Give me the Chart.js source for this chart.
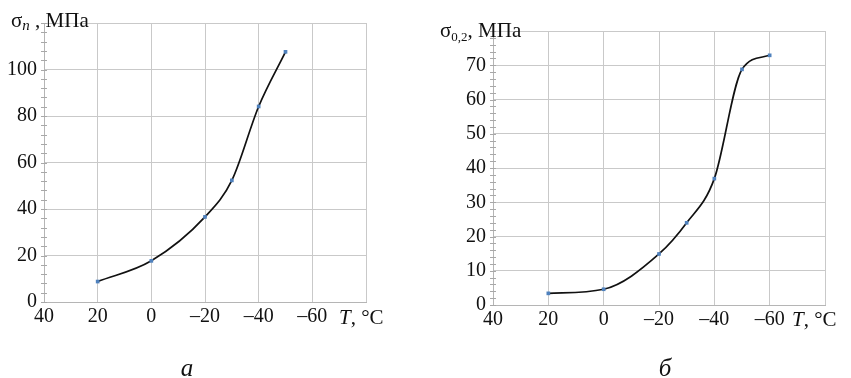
<!DOCTYPE html>
<html>
<head>
<meta charset="utf-8">
<script src="https://cdn.jsdelivr.net/npm/chart.js@4.4.1/dist/chart.umd.min.js"></script>
<style>
  html, body { margin: 0; padding: 0; background: #fff; }
  #wrap { position: relative; width: 851px; height: 378px; overflow: hidden; }
  canvas { position: absolute; top: 0; }
  #chartA { left: 0; }
  #chartB { left: 425px; }
</style>
</head>
<body>
<div id="wrap">
  <canvas id="chartA" width="425" height="378"></canvas>
  <canvas id="chartB" width="426" height="378"></canvas>
</div>
<script>
// Data
const tempsA = [20, 0, -20, -30, -40, -50];
const sigmaN = [8.8, 17.7, 36.6, 52.3, 84.1, 107.6];

const tempsB = [20, 0, -20, -30, -40, -50, -60];
const sigma02 = [3.4, 4.6, 14.9, 24.0, 36.9, 68.8, 72.9];

const xMin = -80, xMax = 40, xStep = 20;

const SERIF = "'Liberation Serif', 'DejaVu Serif', serif";
const gridGray = '#c9c9c9';
const pointBlue = '#4f81bd';

function fmtTemp(v) {
    if (v === xMin) return '';
    return v < 0 ? '\u2013' + Math.abs(v) : String(v);
}

// small ticks crossing the y axis
const minorTicks = {
    id: 'minorTicks',
    afterDraw(chart, args, opts) {
        const y = chart.scales.y;
        const ctx = chart.ctx;
        const x0 = chart.chartArea.left;
        ctx.save();
        ctx.strokeStyle = '#a8a8a8';
        ctx.lineWidth = 1;
        ctx.beginPath();
        for (let v = y.min; v <= y.max + 1e-9; v += opts.step) {
            const py = Math.round(y.getPixelForValue(v)) + 0.5;
            ctx.moveTo(x0 - 3, py);
            ctx.lineTo(x0 + 3, py);
        }
        ctx.stroke();
        ctx.restore();
    }
};

// axis titles and captions, drawn as chained text runs
const textRuns = {
    id: 'textRuns',
    afterDraw(chart, args, opts) {
        const ctx = chart.ctx;
        ctx.save();
        ctx.fillStyle = '#111';
        ctx.textBaseline = 'alphabetic';
        (opts.items || []).forEach(item => {
            let x = item.x;
            if (item.center) {
                let w = 0;
                item.runs.forEach(r => { ctx.font = r.font; w += ctx.measureText(r.text).width; });
                x -= w / 2;
            }
            item.runs.forEach(r => {
                ctx.font = r.font;
                ctx.fillText(r.text, x, item.y + (r.dy || 0));
                x += ctx.measureText(r.text).width;
            });
        });
        ctx.restore();
    }
};

function makeChart(id, temps, values, cfg) {
    return new Chart(document.getElementById(id), {
        type: 'scatter',
        data: {
            datasets: [{
                data: temps.map((t, i) => ({ x: t, y: values[i] })),
                showLine: true,
                borderColor: '#111',
                borderWidth: 1.7,
                cubicInterpolationMode: 'monotone',
                pointStyle: 'rect',
                pointRadius: 2.6,
                pointBackgroundColor: pointBlue,
                pointBorderColor: pointBlue,
                pointBorderWidth: 0
            }]
        },
        options: {
            responsive: false,
            animation: false,
            devicePixelRatio: 1,
            layout: { padding: cfg.padding },
            scales: {
                x: {
                    type: 'linear',
                    reverse: true,
                    min: xMin,
                    max: xMax,
                    afterFit: s => { s.height = cfg.xHeight; },
                    afterBuildTicks: s => {
                        s.ticks = [];
                        for (let v = xMin; v <= xMax; v += xStep) s.ticks.push({ value: v });
                    },
                    grid: { color: gridGray, drawTicks: false },
                    border: { color: '#b5b5b5' },
                    ticks: {
                        color: '#111',
                        padding: 3,
                        maxRotation: 0,
                        autoSkip: false,
                        font: { family: SERIF, size: 20 },
                        callback: v => fmtTemp(v)
                    }
                },
                y: {
                    type: 'linear',
                    min: 0,
                    max: cfg.yMax,
                    afterFit: s => { s.width = cfg.yWidth; },
                    grid: { color: gridGray, drawTicks: false },
                    border: { color: '#b5b5b5' },
                    ticks: {
                        stepSize: cfg.yStep,
                        color: '#111',
                        padding: 7,
                        font: { family: SERIF, size: 20 },
                        callback: v => (v === cfg.yMax ? '' : String(v))
                    }
                }
            },
            plugins: {
                legend: { display: false },
                tooltip: { enabled: false },
                minorTicks: { step: cfg.minorStep },
                textRuns: { items: cfg.texts }
            }
        },
        plugins: [minorTicks, textRuns]
    });
}

makeChart('chartA', tempsA, sigmaN, {
    padding: { top: 23, right: 59, bottom: 0, left: 0 },
    xHeight: 76,
    yWidth: 44,
    yMax: 120,
    yStep: 20,
    minorStep: 4,
    texts: [
        { x: 11, y: 27, runs: [
            { text: '\u03c3', font: `21px ${SERIF}` },
            { text: 'n', font: `italic 15px ${SERIF}`, dy: 3 },
            { text: ' , \u041c\u041f\u0430', font: `21px ${SERIF}` }
        ]},
        { x: 339, y: 324, runs: [
            { text: 'T', font: `italic 21px ${SERIF}` },
            { text: ', \u00b0C', font: `21px ${SERIF}` }
        ]},
        { x: 187, y: 376, center: true, runs: [
            { text: '\u0430', font: `italic 25px ${SERIF}` }
        ]}
    ]
});

makeChart('chartB', tempsB, sigma02, {
    padding: { top: 31, right: 26, bottom: 0, left: 0 },
    xHeight: 73,
    yWidth: 68,
    yMax: 80,
    yStep: 10,
    minorStep: 2,
    texts: [
        { x: 15, y: 37, runs: [
            { text: '\u03c3', font: `21px ${SERIF}` },
            { text: '0,2', font: `13px ${SERIF}`, dy: 4 },
            { text: ', \u041c\u041f\u0430', font: `21px ${SERIF}` }
        ]},
        { x: 367, y: 326, runs: [
            { text: 'T', font: `italic 21px ${SERIF}` },
            { text: ', \u00b0C', font: `21px ${SERIF}` }
        ]},
        { x: 240, y: 376, center: true, runs: [
            { text: '\u0431', font: `italic 25px ${SERIF}` }
        ]}
    ]
});
</script>
</body>
</html>
